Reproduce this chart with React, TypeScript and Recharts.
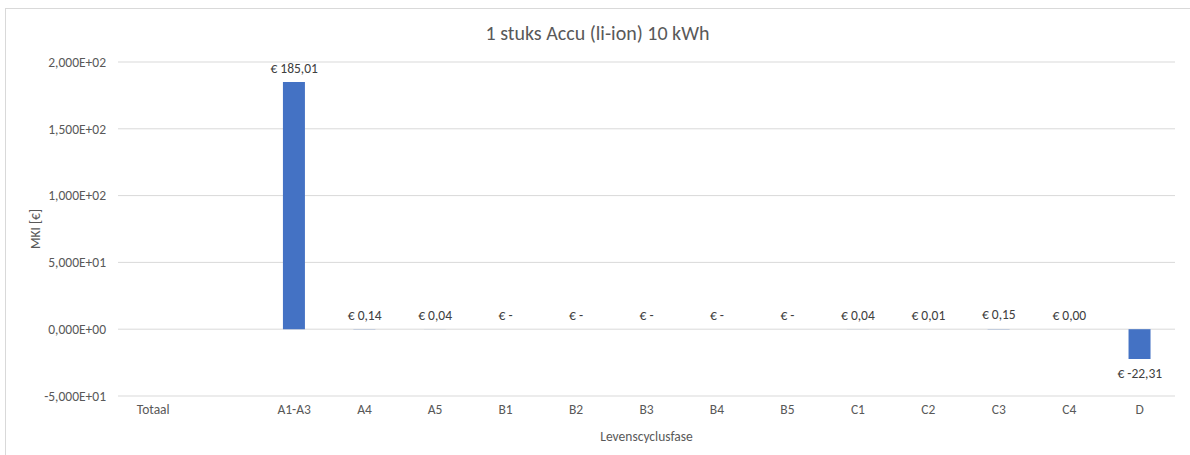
import React from 'react';
import { ComposedChart, Bar, Line, XAxis, YAxis, CartesianGrid, LabelList } from 'recharts';

const categories = ['Totaal', '', 'A1-A3', 'A4', 'A5', 'B1', 'B2', 'B3', 'B4', 'B5', 'C1', 'C2', 'C3', 'C4', 'D'];
const mkiValues: (number | null)[] = [null, null, 185.01, 0.14, 0.04, 0, 0, 0, 0, 0, 0.04, 0.01, 0.15, 0.002, -22.31];
const yTicks = [-50, 0, 50, 100, 150, 200];

const chartTitle = '1 stuks Accu (li-ion) 10 kWh';
const xTitle = 'Levenscyclusfase';
const yTitle = 'MKI [€]';

function fmtSci(v: number): string {
  const s = v.toExponential(3);
  const [m, e] = s.split('e');
  const sign = e.startsWith('-') ? '-' : '+';
  const digits = e.replace(/^[+-]/, '').padStart(2, '0');
  return `${m.replace('.', ',')}E${sign}${digits}`;
}

function fmtEuro(v: number | null): string | null {
  if (v === null) return null;
  if (v === 0) return '€ -';
  return '€ ' + v.toFixed(2).replace('.', ',');
}

const data = categories.map((c, i) => ({ name: c, value: mkiValues[i], label: fmtEuro(mkiValues[i]) }));

const FONT = 'Calibri, Carlito, Roboto, "Liberation Sans", sans-serif';
const FS = 13.5;

const DataLabel = (props: any) => {
  const { x, y, value, index } = props;
  if (value === null || value === undefined || y === null || y === undefined) return null;
  const v = data[index] ? (data[index].value as number) : 0;
  const ty = v < 0 ? y + 14 : y - 14;
  return (
    <text x={x} y={ty} textAnchor="middle" dominantBaseline="central" fill="#404040" fontSize={FS} fontFamily={FONT}>
      {value}
    </text>
  );
};

const YTitle = (props: any) => {
  const vb = props.viewBox;
  const x = vb.x + 15;
  const y = vb.y + vb.height / 2;
  return (
    <text x={x} y={y} transform={`rotate(-90, ${x}, ${y})`} textAnchor="middle" dominantBaseline="central" fill="#595959" fontSize={FS} fontFamily={FONT}>
      {yTitle}
    </text>
  );
};

const XTitle = (props: any) => {
  const vb = props.viewBox;
  const x = vb.x + vb.width / 2;
  const y = vb.y + 40;
  return (
    <text x={x} y={y} textAnchor="middle" dominantBaseline="central" fill="#595959" fontSize={FS} fontFamily={FONT}>
      {xTitle}
    </text>
  );
};

export default function App() {
  return (
    <div style={{ position: 'absolute', left: 0, top: 0, width: 1190, height: 455, overflow: 'hidden', background: '#fff', fontFamily: FONT }}>
      <div style={{ position: 'absolute', left: 5, top: 8, width: 1200, height: 470, border: '1px solid #d9d9d9', boxSizing: 'border-box' }} />
      <div style={{ position: 'absolute', left: 5, top: 21, width: 1185, textAlign: 'center', fontSize: 20, color: '#595959' }}>
        {chartTitle}
      </div>
      <div style={{ position: 'absolute', left: 0, top: 0 }}>
        <ComposedChart width={1190} height={455} data={data} margin={{ top: 62, right: 15, left: 20, bottom: 29 }}>
          <CartesianGrid vertical={false} stroke="#d9d9d9" strokeWidth={1} />
          <XAxis
            dataKey="name"
            interval={0}
            axisLine={false}
            tickLine={false}
            tickSize={0}
            tickMargin={8}
            tick={{ fill: '#595959', fontSize: FS, fontFamily: FONT }}
            label={<XTitle />}
          />
          <YAxis
            width={98}
            domain={[-50, 200]}
            ticks={yTicks}
            axisLine={false}
            tickLine={false}
            tickSize={0}
            tickMargin={12}
            tickFormatter={fmtSci}
            tick={{ fill: '#595959', fontSize: FS, fontFamily: FONT }}
            label={<YTitle />}
          />
          <Bar dataKey="value" fill="#4472C4" barSize={22} isAnimationActive={false} />
          <Line
            dataKey="value"
            stroke="none"
            dot={false}
            activeDot={false}
            legendType="none"
            isAnimationActive={false}
          >
            <LabelList dataKey="label" content={<DataLabel />} />
          </Line>
        </ComposedChart>
      </div>
    </div>
  );
}
